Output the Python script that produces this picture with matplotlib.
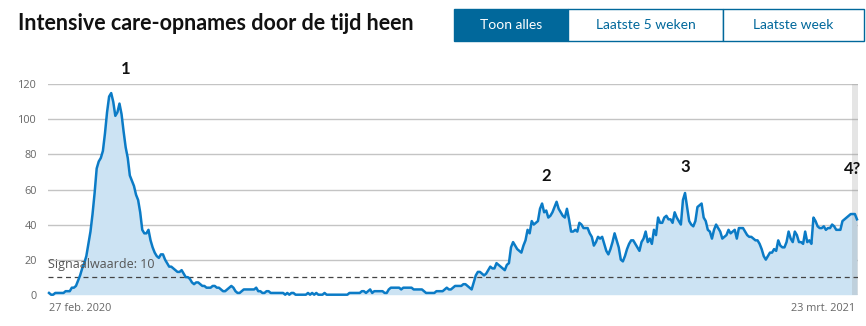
import numpy as np
import pandas as pd
import matplotlib
matplotlib.use("Agg")
import matplotlib.pyplot as plt
from matplotlib.patches import Rectangle

# daily IC admissions, 27 feb 2020 .. 23 mrt 2021
ic_opnames = [
    1, 0, 0, 1, 1, 1, 1, 1, 2, 2,
    2, 4, 4, 5, 8, 11, 15, 18, 22, 29,
    36, 46, 58, 72, 76, 78, 82, 92, 104, 113,
    115, 110, 102, 104, 109, 103, 93, 84, 78, 68,
    65, 62, 57, 54, 47, 37, 35, 35, 37, 31,
    27, 24, 22, 21, 23, 23, 20, 18, 16, 16,
    15, 14, 13, 13, 14, 12, 10, 10, 9, 7,
    6, 7, 7, 6, 5, 5, 4, 4, 4, 5,
    5, 4, 4, 3, 2, 2, 3, 4, 5, 4,
    2, 1, 1, 2, 3, 3, 3, 3, 3, 3,
    4, 2, 2, 1, 1, 2, 2, 1, 1, 1,
    1, 1, 1, 1, 0, 1, 0, 1, 1, 0,
    0, 0, 0, 0, 0, 1, 0, 1, 0, 1,
    0, 0, 0, 1, 0, 0, 0, 0, 0, 0,
    0, 0, 0, 0, 0, 1, 1, 1, 1, 1,
    1, 2, 2, 1, 2, 3, 1, 2, 2, 2,
    2, 2, 1, 1, 3, 4, 4, 4, 4, 4,
    3, 4, 4, 4, 4, 4, 3, 3, 3, 3,
    3, 2, 1, 1, 1, 1, 1, 2, 2, 2,
    2, 3, 4, 3, 3, 4, 5, 5, 5, 5,
    6, 6, 5, 4, 3, 7, 11, 13, 13, 12,
    11, 12, 14, 16, 15, 15, 18, 17, 16, 15,
    14, 17, 18, 27, 30, 28, 26, 25, 24, 28,
    31, 37, 35, 42, 40, 41, 42, 49, 52, 47,
    48, 44, 45, 47, 50, 53, 49, 47, 45, 44,
    49, 43, 36, 36, 37, 36, 41, 40, 38, 38,
    38, 35, 33, 28, 30, 33, 32, 33, 29, 25,
    23, 26, 30, 35, 31, 27, 20, 19, 22, 26,
    29, 31, 31, 29, 27, 25, 30, 32, 36, 30,
    32, 29, 37, 34, 44, 41, 41, 44, 45, 43,
    43, 41, 47, 44, 42, 40, 54, 58, 50, 42,
    40, 39, 42, 50, 51, 52, 44, 42, 37, 36,
    32, 37, 40, 38, 36, 32, 33, 34, 37, 35,
    36, 37, 32, 38, 38, 38, 36, 34, 33, 33,
    32, 31, 31, 29, 26, 22, 20, 22, 24, 24,
    26, 25, 31, 28, 27, 27, 30, 36, 32, 30,
    36, 34, 30, 30, 29, 36, 30, 31, 29, 44,
    42, 39, 38, 38, 39, 37, 38, 38, 40, 39,
    37, 37, 37, 42, 43, 44, 45, 46, 46, 46,
    43,
]
datums = pd.date_range("2020-02-27", periods=len(ic_opnames), freq="D")
yticks = [0, 20, 40, 60, 80, 100, 120]
signaalwaarde = 10
golf_labels = ["1", "2", "3", "4?"]
golf_datums = pd.to_datetime(["2020-04-04", "2020-10-24", "2020-12-30", "2021-03-21"])
golf_hoogte = [128.7, 67.7, 72.7, 71.6]
knoppen = ["Toon alles", "Laatste 5 weken", "Laatste week"]

W, H = 866, 326
blauw = "#0b7bc6"
rijks = "#01689b"


def fx(x):
    return x / W


def fy(y):
    return 1 - y / H


plt.rcParams["font.family"] = ["Lato", "DejaVu Sans"]
fig = plt.figure(figsize=(W / 100, H / 100), dpi=100)
ax = fig.add_axes([fx(48), fy(294.7), (858 - 48) / W, (294.7 - 84.3) / H])

dag = pd.Timedelta(days=1)
ax.fill_between(datums, ic_opnames, 0, color="#cce3f3", lw=0, zorder=1)
ax.axvspan(datums[-3] - 0.5 * dag, datums[-1] + 0.5 * dag, color="#9a9a9a",
           alpha=0.25, lw=0, zorder=2)
ax.plot(datums, ic_opnames, color=blauw, lw=1.8, zorder=4, clip_on=False,
        solid_joinstyle="round")
ax.axhline(signaalwaarde, color="#444444", lw=0.9, ls=(0, (4, 3)), zorder=3)
ax.text(datums[0] - 0.5 * dag, signaalwaarde + 3.5, f"Signaalwaarde: {signaalwaarde}",
        fontsize=9, color="#555555", ha="left", va="bottom", zorder=5,
        family=["Open Sans", "DejaVu Sans"])

ax.set_xlim(datums[0] - 0.5 * dag, datums[-1] + 0.5 * dag)
ax.set_ylim(0, 120)
ax.set_yticks(yticks)
ax.yaxis.grid(True, color="#c4c4c4", lw=1)
ax.set_axisbelow(True)
for s in ax.spines.values():
    s.set_visible(False)
ax.tick_params(axis="y", length=0, pad=8, labelsize=7.8, labelcolor="#666666")
for lab in ax.get_yticklabels():
    lab.set_family(["Open Sans", "DejaVu Sans"])
ax.set_xticks([])

ax.text(datums[0], -4.5, "27 feb. 2020", ha="left", va="top", fontsize=7.8,
        color="#666666", family=["Open Sans", "DejaVu Sans"])
ax.text(datums[-1] - 1 * dag, -4.5, "23 mrt. 2021", ha="right", va="top", fontsize=7.8,
        color="#666666", family=["Open Sans", "DejaVu Sans"])

for lab, d, h in zip(golf_labels, golf_datums, golf_hoogte):
    ax.text(d, h, lab, ha="center", va="center", fontsize=12, fontweight="bold",
            color="#111111", clip_on=False, zorder=6)

# title and buttons
fig.text(fx(18), fy(24), "Intensive care-opnames door de tijd heen", fontsize=15.5,
         fontweight="bold", color="#111111", ha="left", va="center")
randen = [454, 568, 723, 864]
for i, naam in enumerate(knoppen):
    x0, x1 = randen[i], randen[i + 1]
    actief = i == 0
    fig.patches.append(Rectangle((fx(x0), fy(41)), fx(x1 - x0), 32 / H,
                                 transform=fig.transFigure, facecolor=rijks if actief else "white",
                                 edgecolor=rijks, lw=1))
    fig.text(fx((x0 + x1) / 2), fy(25), naam, ha="center", va="center", fontsize=10,
             color="white" if actief else rijks)

fig.savefig("out.png", dpi=100)
